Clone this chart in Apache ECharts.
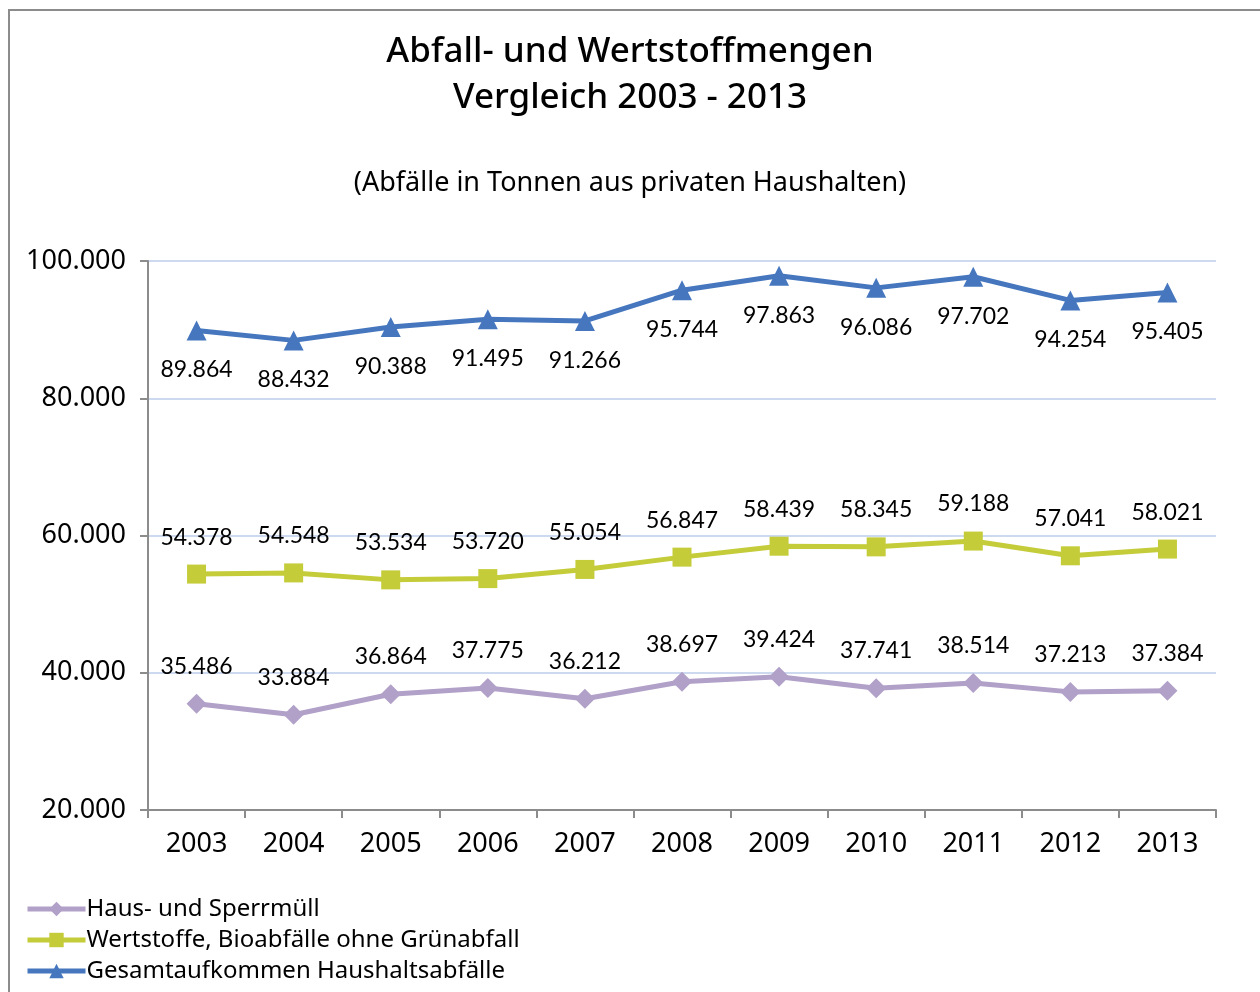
<!DOCTYPE html>
<html>
<head>
<meta charset="utf-8">
<script src="https://cdn.jsdelivr.net/npm/echarts@6/dist/echarts.min.js"></script>
<style>
    html, body { margin: 0; padding: 0; background: #fff; }
    #chart { width: 1260px; height: 992px; }
</style>
</head>
<body>
<div id="chart"></div>
<script>
// Daten (Tonnen)
var jahre = ['2003','2004','2005','2006','2007','2008','2009','2010','2011','2012','2013'];
var hausSperrmuell = [35486, 33884, 36864, 37775, 36212, 38697, 39424, 37741, 38514, 37213, 37384];
var wertstoffe = [54378, 54548, 53534, 53720, 55054, 56847, 58439, 58345, 59188, 57041, 58021];
var gesamt = [89864, 88432, 90388, 91495, 91266, 95744, 97863, 96086, 97702, 94254, 95405];
var serienNamen = ['Haus- und Sperrmüll', 'Wertstoffe, Bioabfälle ohne Grünabfall', 'Gesamtaufkommen Haushaltsabfälle'];

// 1.000er Trennzeichen
var fmt = function (v) {
    return String(v).replace(/\B(?=(\d{3})+(?!\d))/g, '.');
};

var chart = echarts.init(document.getElementById('chart'));
var labelFont = 'Lato, "Open Sans", sans-serif';
var textFont = '"Noto Sans", "Open Sans", sans-serif';

var option = {
    backgroundColor: '#fff',
    animation: false,
    graphic: [{
        type: 'rect',
        shape: { x: 9, y: 10, width: 1400, height: 1100 },
        style: { fill: 'none', stroke: '#8c8c8c', lineWidth: 2 }
    }],
    title: [{
        text: 'Abfall- und Wertstoffmengen\nVergleich 2003 - 2013',
        left: 'center',
        top: 24,
        textStyle: { fontFamily: textFont, fontSize: 35, fontWeight: 500, color: '#000', lineHeight: 46 }
    }, {
        text: '(Abfälle in Tonnen aus privaten Haushalten)',
        left: 'center',
        top: 165,
        textStyle: { fontFamily: textFont, fontSize: 27, fontWeight: 'normal', color: '#000' }
    }],
    legend: {
        orient: 'vertical',
        left: 25,
        top: 896,
        padding: 0,
        itemWidth: 58,
        itemHeight: 18,
        itemGap: 5,
        lineStyle: { width: 5 },
        textStyle: { fontFamily: textFont, fontSize: 24, lineHeight: 26, color: '#000', padding: [0, 0, 0, -4] },
        data: serienNamen
    },
    grid: { left: 148, right: 44, top: 261, bottom: 182, containLabel: false },
    xAxis: {
        type: 'category',
        data: jahre,
        boundaryGap: true,
        axisLine: { lineStyle: { color: '#8c8c8c', width: 2 } },
        axisTick: { show: true, length: 8, lineStyle: { color: '#8c8c8c', width: 2 } },
        axisLabel: { fontFamily: textFont, fontSize: 27, color: '#000', margin: 21 }
    },
    yAxis: {
        type: 'value',
        min: 20000,
        max: 100000,
        interval: 20000,
        axisLine: { show: true, lineStyle: { color: '#8c8c8c', width: 2 } },
        axisTick: { show: true, length: 8, lineStyle: { color: '#8c8c8c', width: 2 } },
        axisLabel: { fontFamily: textFont, fontSize: 27, color: '#000', margin: 22, formatter: fmt },
        splitLine: { lineStyle: { color: '#ccd9ee', width: 2 } }
    },
    series: [{
        name: serienNamen[0],
        type: 'line',
        data: hausSperrmuell,
        color: '#b1a0c8',
        symbol: 'diamond',
        symbolSize: 20,
        lineStyle: { width: 5 },
        label: { show: true, position: 'top', distance: 16, formatter: function (p) { return fmt(p.value); },
            fontFamily: labelFont, fontSize: 23, color: '#000' }
    }, {
        name: serienNamen[1],
        type: 'line',
        data: wertstoffe,
        color: '#c4cc3a',
        symbol: 'rect',
        symbolSize: 19,
        lineStyle: { width: 5 },
        label: { show: true, position: 'top', distance: 16, formatter: function (p) { return fmt(p.value); },
            fontFamily: labelFont, fontSize: 23, color: '#000' }
    }, {
        name: serienNamen[2],
        type: 'line',
        data: gesamt,
        color: '#4677be',
        symbol: 'triangle',
        symbolSize: 20,
        lineStyle: { width: 5 },
        label: { show: true, position: 'bottom', distance: 18, formatter: function (p) { return fmt(p.value); },
            fontFamily: labelFont, fontSize: 23, color: '#000' }
    }]
};
chart.setOption(option);
</script>
</body>
</html>
